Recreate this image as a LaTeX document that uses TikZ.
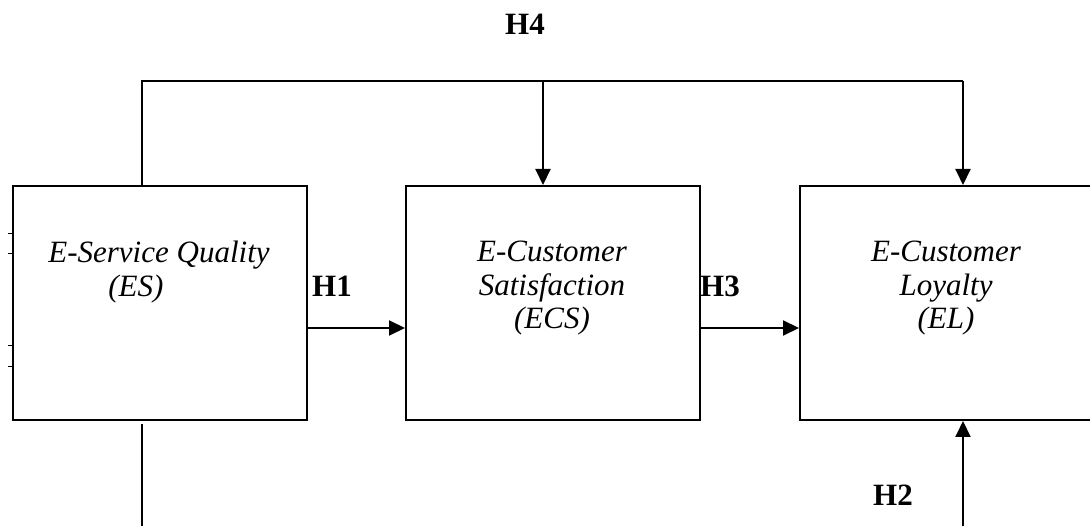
\documentclass[tikz,border=0pt]{standalone}
\usepackage{fontspec}
\setmainfont{Liberation Serif}
\usetikzlibrary{arrows.meta}
\begin{document}
\begin{tikzpicture}[x=1pt,y=-1pt,
  box/.style={draw,line width=2pt,minimum width=294pt,minimum height=234pt,anchor=north west,inner sep=0pt},
  lbl/.style={font=\fontsize{31}{33.5}\selectfont\itshape,inner sep=0pt,anchor=north},
  hyp/.style={font=\fontsize{31}{33.5}\selectfont\bfseries,inner sep=0pt},
  conn/.style={line width=2pt},
  arr/.style={conn,-{Triangle[length=16pt,width=15pt]}},
  tick/.style={line width=0.8pt}]
\useasboundingbox (0,0) rectangle (1090,526);
\clip (0,0) rectangle (1090,526);
% boxes
\node[box] (b1) at (12,185) {};
\node[box] (b2) at (405,185) {};
\node[box] (b3) at (799,185) {};
% box texts
\node[lbl,align=left] (t1) at (159,241) {E-Service Quality\\\hspace*{60pt}(ES)};
\node[lbl,align=center] (t2) at (552,241) {E-Customer\\Satisfaction\\(ECS)};
\node[lbl,align=center] (t3) at (946,241) {E-Customer\\Loyalty\\(EL)};
% hypothesis labels
\node[hyp] (h4) at (525,24) {H4};
\node[hyp] (h1) at (332,286) {H1};
\node[hyp] (h3) at (720,286) {H3};
\node[hyp] (h2) at (893,495) {H2};
% top connector
\coordinate (c1) at (142,81);
\coordinate (c2) at (543,81);
\coordinate (c3) at (963,81);
\draw[conn] (c1 |- b1.north) -- (c1) -- (c3);
\draw[arr] (c2) -- (c2 |- b2.north);
\draw[arr] (c3) -- (c3 |- b3.north);
% horizontal arrows
\draw[arr] ([yshift=-25pt]b1.east) -- ([yshift=-25pt]b2.west);
\draw[arr] ([yshift=-25pt]b2.east) -- ([yshift=-25pt]b3.west);
% bottom connectors
\coordinate (d1) at (142,424);
\coordinate (d1e) at (142,530);
\draw[conn] (d1) -- (d1e);
\coordinate (d2) at (963,530);
\draw[arr] (d2) -- (d2 |- b3.south);
% small ticks at left edge
\coordinate (k1) at (8,233);
\coordinate (k2) at (8,253);
\coordinate (k3) at (8,345);
\coordinate (k4) at (8,366);
\draw[tick] (k1) -- (k1 -| b1.west);
\draw[tick] (k2) -- (k2 -| b1.west);
\draw[tick] (k3) -- (k3 -| b1.west);
\draw[tick] (k4) -- (k4 -| b1.west);
\end{tikzpicture}
\end{document}
